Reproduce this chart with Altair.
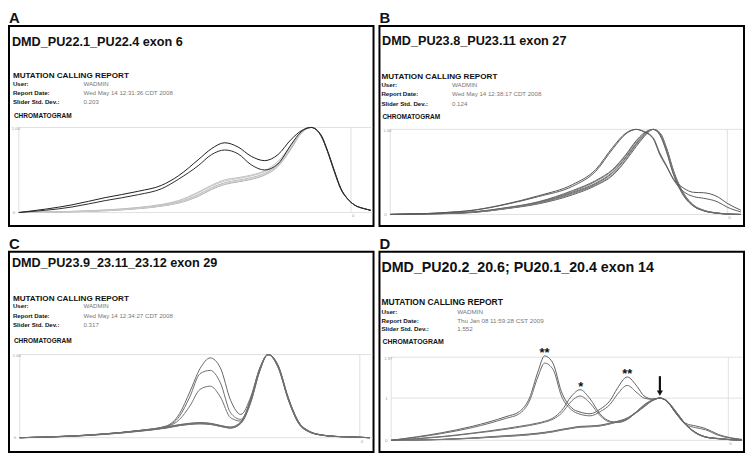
import altair as alt
import pandas as pd

# ---------------- data ----------------
A_x = [0, 16, 26, 36, 43, 48, 54, 58, 62, 66, 70, 74, 78, 82, 85, 88, 91, 93, 95, 97, 99, 101, 104, 106]
A_norm1 = [0, 0.010, 0.025, 0.050, 0.080, 0.120, 0.21, 0.29, 0.350, 0.38, 0.41, 0.46, 0.56, 0.76, 0.93, 1.0, 0.90, 0.71, 0.48, 0.27, 0.16, 0.09, 0.045, 0.025]
A_norm2 = [0, 0.012, 0.028, 0.055, 0.090, 0.130, 0.23, 0.31, 0.370, 0.40, 0.43, 0.48, 0.58, 0.78, 0.94, 1.0, 0.90, 0.71, 0.48, 0.27, 0.16, 0.09, 0.045, 0.025]
A_norm3 = [0, 0.008, 0.020, 0.045, 0.075, 0.110, 0.19, 0.27, 0.330, 0.36, 0.39, 0.44, 0.54, 0.75, 0.93, 1.0, 0.91, 0.72, 0.49, 0.28, 0.16, 0.09, 0.045, 0.025]
A_norm4 = [0, 0.014, 0.030, 0.060, 0.095, 0.140, 0.24, 0.32, 0.385, 0.41, 0.44, 0.49, 0.60, 0.79, 0.94, 1.0, 0.90, 0.71, 0.48, 0.27, 0.16, 0.09, 0.045, 0.025]
A_norm5 = [0, 0.009, 0.022, 0.048, 0.078, 0.115, 0.20, 0.28, 0.340, 0.37, 0.40, 0.45, 0.55, 0.77, 0.93, 1.0, 0.90, 0.71, 0.48, 0.27, 0.16, 0.09, 0.045, 0.025]
A_mut1 = [0, 0.090, 0.175, 0.25, 0.32, 0.43, 0.62, 0.75, 0.82, 0.77, 0.66, 0.61, 0.68, 0.86, 0.96, 1.0, 0.91, 0.72, 0.49, 0.28, 0.16, 0.09, 0.045, 0.025]
A_mut2 = [0, 0.065, 0.140, 0.21, 0.28, 0.39, 0.55, 0.68, 0.735, 0.69, 0.56, 0.50, 0.57, 0.80, 0.95, 1.0, 0.90, 0.71, 0.48, 0.27, 0.16, 0.09, 0.045, 0.025]

B_x = [0, 15, 25, 34, 44, 54, 61, 66, 70, 73, 75, 78, 80, 82, 84, 87, 90, 93, 97, 100, 104]
B_late1 = [0, 0.010, 0.027, 0.070, 0.135, 0.25, 0.36, 0.49, 0.67, 0.83, 0.92, 1.0, 0.95, 0.76, 0.50, 0.24, 0.100, 0.045, 0.015, 0.005, 0]
B_late2 = [0, 0.012, 0.030, 0.075, 0.145, 0.27, 0.39, 0.52, 0.70, 0.86, 0.94, 1.0, 0.94, 0.74, 0.48, 0.23, 0.100, 0.045, 0.015, 0.005, 0]
B_late3 = [0, 0.008, 0.024, 0.065, 0.125, 0.23, 0.34, 0.46, 0.64, 0.80, 0.90, 1.0, 0.96, 0.78, 0.52, 0.25, 0.110, 0.050, 0.018, 0.006, 0]
B_late4 = [0, 0.011, 0.029, 0.072, 0.140, 0.26, 0.37, 0.50, 0.68, 0.84, 0.93, 1.0, 0.95, 0.75, 0.49, 0.23, 0.100, 0.045, 0.015, 0.005, 0]
B_late5 = [0, 0.009, 0.025, 0.068, 0.130, 0.24, 0.35, 0.47, 0.65, 0.82, 0.91, 1.0, 0.96, 0.77, 0.51, 0.25, 0.105, 0.048, 0.016, 0.005, 0]
B_late6 = [0, 0.013, 0.031, 0.078, 0.150, 0.28, 0.40, 0.53, 0.71, 0.87, 0.95, 1.0, 0.93, 0.73, 0.47, 0.22, 0.095, 0.042, 0.014, 0.004, 0]
B_early1 = [0, 0.020, 0.053, 0.120, 0.22, 0.35, 0.53, 0.79, 0.96, 1.0, 0.975, 0.89, 0.70, 0.56, 0.42, 0.31, 0.26, 0.255, 0.21, 0.13, 0.05]
B_early2 = [0, 0.018, 0.050, 0.115, 0.21, 0.33, 0.51, 0.77, 0.95, 1.0, 0.980, 0.90, 0.72, 0.57, 0.41, 0.27, 0.21, 0.190, 0.15, 0.085, 0.03]

C_x = [0, 16, 25, 35, 43, 47, 50, 53, 56, 59, 62, 65, 68, 70.5, 73, 76, 79, 82, 85, 89, 93, 97, 103]
C_low1 = [0, 0.020, 0.043, 0.080, 0.120, 0.150, 0.165, 0.172, 0.165, 0.140, 0.120, 0.180, 0.45, 0.80, 1.0, 0.850, 0.460, 0.180, 0.075, 0.030, 0.015, 0.010, 0]
C_low2 = [0, 0.018, 0.040, 0.076, 0.115, 0.145, 0.160, 0.166, 0.160, 0.135, 0.115, 0.170, 0.43, 0.79, 1.0, 0.860, 0.470, 0.190, 0.080, 0.032, 0.016, 0.010, 0]
C_low3 = [0, 0.021, 0.045, 0.083, 0.125, 0.155, 0.170, 0.178, 0.170, 0.145, 0.125, 0.185, 0.46, 0.81, 1.0, 0.840, 0.450, 0.170, 0.070, 0.028, 0.014, 0.009, 0]
C_low4 = [0, 0.019, 0.042, 0.079, 0.118, 0.148, 0.163, 0.169, 0.162, 0.138, 0.118, 0.175, 0.44, 0.80, 1.0, 0.855, 0.465, 0.185, 0.078, 0.031, 0.015, 0.010, 0]
C_low5 = [0, 0.022, 0.046, 0.085, 0.128, 0.158, 0.174, 0.182, 0.174, 0.148, 0.128, 0.190, 0.47, 0.82, 1.0, 0.845, 0.455, 0.175, 0.072, 0.029, 0.014, 0.009, 0]
C_high1 = [0, 0.023, 0.047, 0.087, 0.140, 0.29, 0.55, 0.83, 0.96, 0.84, 0.45, 0.28, 0.50, 0.83, 1.0, 0.87, 0.48, 0.19, 0.080, 0.03, 0.015, 0.010, 0]
C_high2 = [0, 0.022, 0.045, 0.085, 0.135, 0.26, 0.49, 0.77, 0.81, 0.66, 0.30, 0.22, 0.47, 0.82, 1.0, 0.86, 0.47, 0.19, 0.080, 0.03, 0.015, 0.010, 0]
C_high3 = [0, 0.020, 0.044, 0.083, 0.130, 0.22, 0.38, 0.58, 0.62, 0.49, 0.24, 0.20, 0.46, 0.81, 1.0, 0.86, 0.46, 0.18, 0.075, 0.03, 0.015, 0.008, 0]

D_x = [0, 15, 24, 34, 38, 41, 43.5, 45.5, 48, 50.5, 53.5, 56, 59, 62, 65, 67, 70, 73, 75, 77.5, 79.7, 81.6, 84.5, 87.4, 90.3, 93.2, 97, 104]
D_norm1 = [0, 0.020, 0.050, 0.100, 0.120, 0.140, 0.160, 0.180, 0.210, 0.250, 0.290, 0.320, 0.330, 0.350, 0.400, 0.440, 0.520, 0.680, 0.800, 0.94, 1.0, 0.94, 0.67, 0.370, 0.180, 0.080, 0.040, 0]
D_norm2 = [0, 0.018, 0.045, 0.090, 0.110, 0.130, 0.150, 0.170, 0.200, 0.240, 0.280, 0.310, 0.320, 0.340, 0.390, 0.430, 0.510, 0.670, 0.790, 0.94, 1.0, 0.93, 0.65, 0.360, 0.170, 0.075, 0.035, 0]
D_norm3 = [0, 0.022, 0.055, 0.110, 0.130, 0.150, 0.170, 0.190, 0.220, 0.260, 0.300, 0.330, 0.340, 0.360, 0.410, 0.450, 0.530, 0.690, 0.810, 0.95, 1.0, 0.95, 0.68, 0.380, 0.190, 0.085, 0.045, 0]
D_norm4 = [0, 0.019, 0.048, 0.095, 0.115, 0.135, 0.155, 0.175, 0.205, 0.245, 0.285, 0.315, 0.325, 0.345, 0.395, 0.435, 0.515, 0.675, 0.795, 0.94, 1.0, 0.94, 0.66, 0.365, 0.175, 0.078, 0.038, 0]
D_star1 = [0, 0.090, 0.170, 0.280, 0.330, 0.370, 0.410, 0.450, 0.530, 0.700, 1.05, 1.20, 0.98, 0.62, 0.45, 0.43, 0.50, 0.70, 0.84, 0.96, 1.0, 0.94, 0.66, 0.37, 0.18, 0.08, 0.04, 0]
D_star2 = [0, 0.080, 0.160, 0.260, 0.310, 0.350, 0.390, 0.430, 0.500, 0.640, 0.93, 1.05, 0.88, 0.58, 0.43, 0.42, 0.49, 0.69, 0.83, 0.95, 1.0, 0.94, 0.66, 0.37, 0.18, 0.08, 0.04, 0]
D_dstar1 = [0, 0.180, 0.330, 0.560, 0.680, 1.000, 1.620, 2.000, 1.820, 1.150, 0.77, 0.67, 0.63, 0.74, 0.95, 1.22, 1.50, 1.27, 1.05, 0.98, 1.0, 0.94, 0.64, 0.40, 0.34, 0.28, 0.14, 0.02]
D_dstar2 = [0, 0.160, 0.300, 0.520, 0.630, 0.930, 1.500, 1.830, 1.680, 1.050, 0.72, 0.62, 0.58, 0.68, 0.86, 1.08, 1.30, 1.12, 1.00, 0.97, 1.0, 0.94, 0.63, 0.37, 0.30, 0.25, 0.12, 0.02]

D_marks_x = [45.5, 56.2, 70.0]
D_marks_y = [2.0, 1.2, 1.5]
D_marks_t = ["**", "*", "**"]
D_arrow_x = 79.7

# ---------------- layout ----------------
W, H = 368, 202
SX, SY = W / 372.0, H / 207.0
FONT = "Liberation Sans"
GRID = "#d9d9d9"


def txt(s, px, py, size, weight="normal", color="#111", align="left"):
    return alt.Chart(pd.DataFrame({"t": [s]})).mark_text(
        font=FONT, fontSize=size, fontWeight=weight, color=color,
        align=align, baseline="alphabetic"
    ).encode(text="t:N", x=alt.value(px), y=alt.value(py))


def make_panel(letter, title, date, sdev, xs, curves, top_val, levels, lay, fs, annot=False):
    L, R, Yt, Yb = lay["L"] * SX, lay["R"] * SX, lay["Yt"] * SY, lay["Yb"] * SY
    xsc = alt.Scale(domain=[0, 100], range=[L, R], nice=False, zero=False)
    ysc = alt.Scale(domain=[0, top_val], range=[Yb, Yt], nice=False, zero=False)

    rows = []
    names, cols = [], []
    for name, ys, col in curves:
        names.append(name)
        cols.append(col)
        for xv, yv in zip(xs, ys):
            rows.append({"x": xv, "y": yv, "c": name})
    df = pd.DataFrame(rows)

    hr = alt.Chart(pd.DataFrame({"v": levels})).mark_rule(color=GRID, strokeWidth=0.8).encode(
        y=alt.Y("v:Q", scale=ysc, axis=None), x=alt.value(L), x2=alt.value(W - 1))
    vr = alt.Chart(pd.DataFrame({"u": [0, 100]})).mark_rule(color=GRID, strokeWidth=0.8).encode(
        x=alt.X("u:Q", scale=xsc, axis=None), y=alt.value(Yt), y2=alt.value(Yb))
    lines = alt.Chart(df).mark_line(interpolate="monotone", strokeWidth=1).encode(
        x=alt.X("x:Q", scale=xsc, axis=None),
        y=alt.Y("y:Q", scale=ysc, axis=None),
        color=alt.Color("c:N", scale=alt.Scale(domain=names, range=cols), legend=None),
    )

    lx, vx = lay["lx"] * SX, lay["vx"] * SX
    layers = [hr, vr, lines]
    layers += [
        txt(letter, 0, -2.5, 15, "bold"),
        txt(title, lay["tx"] * SX, lay["ty"] * SY, fs["title"], "bold"),
        txt("MUTATION CALLING REPORT", lx, lay["my"] * SY, fs["mut"], "bold"),
        txt("User:", lx, lay["uy"] * SY, fs["lab"], "bold"),
        txt("Report Date:", lx, lay["dy"] * SY, fs["lab"], "bold"),
        txt("Slider Std. Dev.:", lx, lay["sy"] * SY, fs["lab"], "bold"),
        txt("WADMIN", vx, lay["uy"] * SY, fs["lab"], color="#777"),
        txt(date, vx, lay["dy"] * SY, fs["lab"], color="#777"),
        txt(sdev, vx, lay["sy"] * SY, fs["lab"], color="#777"),
        txt("CHROMATOGRAM", lay["cx"] * SX, lay["cy"] * SY, fs["chrom"], "bold"),
        txt(lay["toplab"], L - 7, Yt + 2.5, 4.2, color="#999"),
        txt("0", L - 6, Yb + 1.5, 4.2, color="#999"),
        txt("0", R + 1, Yb + 5, 4.2, color="#999"),
    ]
    if annot:
        ann = pd.DataFrame({"x": D_marks_x, "y": D_marks_y, "t": D_marks_t})
        layers.append(alt.Chart(ann).mark_text(
            font=FONT, fontSize=13, fontWeight="bold", baseline="alphabetic", dy=1.5, color="#111"
        ).encode(x=alt.X("x:Q", scale=xsc, axis=None), y=alt.Y("y:Q", scale=ysc, axis=None), text="t:N"))
        arr = pd.DataFrame({"x": [D_arrow_x], "y": [1.52], "y2": [1.17], "h": [1.12]})
        layers.append(alt.Chart(arr).mark_rule(color="#111", strokeWidth=2.2).encode(
            x=alt.X("x:Q", scale=xsc, axis=None), y=alt.Y("y:Q", scale=ysc, axis=None), y2="y2:Q"))
        layers.append(alt.Chart(arr).mark_point(shape="triangle-down", filled=True, size=38,
                                                color="#111", opacity=1).encode(
            x=alt.X("x:Q", scale=xsc, axis=None), y=alt.Y("h:Q", scale=ysc, axis=None)))
        layers.append(txt("1", L - 6, Yb - (Yb - Yt) / top_val + 1.5, 4.2, color="#999"))
    return alt.layer(*layers).properties(width=W, height=H)


FS = {"title": 12.8, "mut": 8.2, "lab": 6.2, "chrom": 6.6}
FS_D = {"title": 14.4, "mut": 8.6, "lab": 6.3, "chrom": 7.0}

lay_A = dict(L=10, R=349, Yt=105, Yb=193, tx=3, ty=20.5, lx=4, my=54, uy=62, dy=71, sy=80.7, vx=76, cx=5, cy=95, toplab="1.00")
lay_B = dict(L=11, R=355, Yt=107, Yb=195, tx=2.7, ty=20, lx=2, my=54.7, uy=63, dy=72.7, sy=82.3, vx=74, cx=3, cy=96.7, toplab="1.00")
lay_C = dict(L=11, R=358, Yt=106.3, Yb=192.3, tx=3, ty=16, lx=4, my=50.7, uy=58, dy=68, sy=78, vx=76, cx=5, cy=94.5, toplab="1.00")
lay_D = dict(L=12, R=356, Yt=109, Yb=195, tx=2, ty=21.3, lx=2, my=55, uy=64.3, dy=73.3, sy=82.3, vx=79.3, cx=3, cy=95.7, toplab="1.97")

LIGHT = ["#b4b4b4", "#c6c6c6", "#aaaaaa", "#bebebe", "#cdcdcd"]

pA = make_panel("A", "DMD_PU22.1_PU22.4 exon 6", "Wed May 14 12:31:36 CDT 2008", "0.203", A_x,
                [("n1", A_norm1, LIGHT[0]), ("n2", A_norm2, LIGHT[1]), ("n3", A_norm3, LIGHT[2]),
                 ("n4", A_norm4, LIGHT[3]), ("n5", A_norm5, LIGHT[4]),
                 ("m1", A_mut1, "#1e1e1e"), ("m2", A_mut2, "#2a2a2a")],
                1.0, [0, 1.0], lay_A, FS)

pB = make_panel("B", "DMD_PU23.8_PU23.11 exon 27", "Wed May 14 12:38:17 CDT 2008", "0.124", B_x,
                [("l1", B_late1, "#6a6a6a"), ("l2", B_late2, "#7a7a7a"), ("l3", B_late3, "#5e5e5e"),
                 ("l4", B_late4, "#707070"), ("l5", B_late5, "#808080"), ("l6", B_late6, "#666666"),
                 ("e1", B_early1, "#555555"), ("e2", B_early2, "#5a5a5a")],
                1.0, [0, 1.0], lay_B, FS)

pC = make_panel("C", "DMD_PU23.9_23.11_23.12 exon 29", "Wed May 14 12:34:27 CDT 2008", "0.317", C_x,
                [("c4", C_low1, "#777777"), ("c5", C_low2, "#6c6c6c"), ("c6", C_low3, "#808080"),
                 ("c7", C_low4, "#747474"), ("c8", C_low5, "#6a6a6a"),
                 ("c1", C_high1, "#666666"), ("c2", C_high2, "#6e6e6e"), ("c3", C_high3, "#707070")],
                1.0, [0, 1.0], lay_C, FS)

pD = make_panel("D", "DMD_PU20.2_20.6; PU20.1_20.4 exon 14", "Thu Jan 08 11:59:28 CST 2009", "1.552", D_x,
                [("d5", D_norm1, "#6e6e6e"), ("d6", D_norm2, "#7a7a7a"), ("d7", D_norm3, "#666666"),
                 ("d8", D_norm4, "#808080"),
                 ("s1", D_star1, "#666666"), ("s2", D_star2, "#707070"),
                 ("ss1", D_dstar1, "#5e5e5e"), ("ss2", D_dstar2, "#6a6a6a")],
                1.97, [0, 1.0, 1.97], lay_D, FS_D, annot=True)

chart = alt.concat(pA, pB, pC, pD, columns=2, spacing={"row": 26, "column": 6}, bounds="flush").resolve_scale(
    color="independent"
).properties(
    padding=0, background="white"
).configure_view(stroke="black", strokeWidth=2)

chart.save("out.html", embed_options={"renderer": "svg", "actions": False})
